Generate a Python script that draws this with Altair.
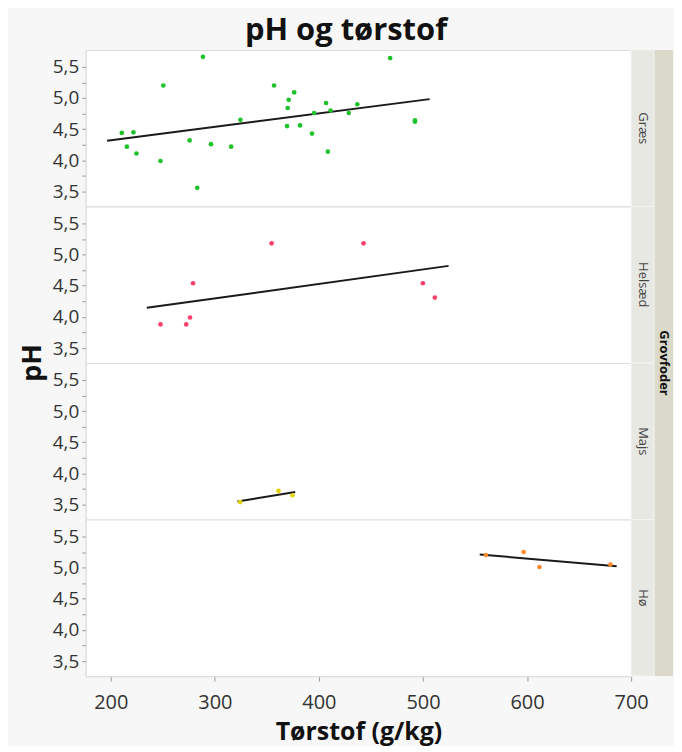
import altair as alt
import numpy as np
import pandas as pd

# ---- data ----
groups = ["Græs", "Helsæd", "Majs", "Hø"]
colors = ["#1fc22a", "#ff3f6c", "#e3d100", "#ff8a2e"]

gras_x = [288.6, 468.5, 250.5, 356.9, 376.3, 371.0, 370.0, 406.9, 436.9, 411.2,
          395.4, 428.7, 324.6, 492.3, 492.3, 369.4, 381.9, 393.4, 210.6, 221.8,
          215.5, 275.8, 296.3, 315.7, 224.7, 247.8, 408.6, 283.1]
gras_y = [5.66, 5.64, 5.20, 5.20, 5.09, 4.97, 4.84, 4.92, 4.90, 4.80,
          4.76, 4.76, 4.65, 4.64, 4.62, 4.55, 4.56, 4.43, 4.44, 4.45,
          4.22, 4.32, 4.26, 4.22, 4.11, 3.99, 4.14, 3.56]
helsaed_x = [354.6, 442.9, 279.1, 499.9, 511.4, 276.2, 247.8, 272.5]
helsaed_y = [5.18, 5.18, 4.54, 4.54, 4.31, 3.99, 3.88, 3.88]
majs_x = [324.3, 361.2, 374.7]
majs_y = [3.54, 3.72, 3.65]
ho_x = [560.5, 596.7, 611.9, 680.1]
ho_y = [5.20, 5.25, 5.01, 5.05]

x_ticks = [200, 300, 400, 500, 600, 700]
y_ticks = [3.5, 3.75, 4.0, 4.25, 4.5, 4.75, 5.0, 5.25, 5.5]

series = {"Græs": (gras_x, gras_y), "Helsæd": (helsaed_x, helsaed_y),
          "Majs": (majs_x, majs_y), "Hø": (ho_x, ho_y)}

rows = []
for g, (xs, ys) in series.items():
    for xv, yv in zip(xs, ys):
        rows.append({"Grovfoder": g, "Tørstof": xv, "pH": yv, "kind": "pt"})
    # least-squares fit line, drawn over the data range plus 5 % each side
    m, b = np.polyfit(xs, ys, 1)
    lo, hi = min(xs), max(xs)
    ext = 0.05 * (hi - lo)
    for xv in (lo - ext, hi + ext):
        rows.append({"Grovfoder": g, "Tørstof": xv, "pH": m * xv + b, "kind": "fit"})
df = pd.DataFrame(rows)

W, H = 547, 157
NROWS = len(groups)
FONT = "Open Sans"

xscale = alt.Scale(domain=[176, 700], nice=False, zero=False)
yscale = alt.Scale(domain=[3.26, 5.77], nice=False, zero=False)

x_enc = alt.X("Tørstof:Q", scale=xscale, title="Tørstof (g/kg)",
              axis=alt.Axis(values=x_ticks, labelFontSize=20, titleFontSize=25,
                            titleFontWeight="bold", labelColor="#333333",
                            titleColor="#111111", tickColor="#9a9a9a",
                            domainColor="#c8c8c8", tickSize=5, grid=False,
                            labelPadding=11, titlePadding=8, labelFlush=False))
y_enc = alt.Y("pH:Q", scale=yscale, title=None,
              axis=alt.Axis(values=y_ticks, labelFontSize=19, labelColor="#333333",
                            labelExpr="datum.value % 0.5 == 0 ? replace(format(datum.value, '.1f'), '.', ',') : ''",
                            tickColor="#9a9a9a", domainColor="#c8c8c8", tickSize=4,
                            grid=False, labelPadding=3))

base = alt.Chart()

points = base.transform_filter("datum.kind == 'pt'").mark_circle(size=22, opacity=1).encode(
    x=x_enc, y=y_enc,
    color=alt.Color("Grovfoder:N", scale=alt.Scale(domain=groups, range=colors), legend=None),
)

fit = base.transform_filter("datum.kind == 'fit'").mark_line(
    color="#1a1a1a", strokeWidth=2).encode(x=x_enc, y=y_enc)

one_per_group = base.transform_aggregate(n="count()", groupby=["Grovfoder"])

strip_inner = one_per_group.mark_rect(color="#e8e8e3", stroke="#f4f4f0", strokeWidth=1).encode(
    x=alt.value(W), x2=alt.value(W + 23), y=alt.value(0), y2=alt.value(H))
row_label = one_per_group.mark_text(angle=90, fontSize=13, font=FONT, color="#444444",
                                    baseline="middle", align="center").encode(
    x=alt.value(W + 11.5), y=alt.value(H / 2), text="Grovfoder:N")

# outer strip: one tall rect from the first panel, spanning all panels
first = base.transform_filter(f"datum.Grovfoder == '{groups[0]}'").transform_aggregate(
    n="count()", groupby=["Grovfoder"])
strip_outer = first.mark_rect(color="#dbd9c9").encode(
    x=alt.value(W + 23), x2=alt.value(W + 42), y=alt.value(0), y2=alt.value(NROWS * H))

# texts spanning all panels, drawn from the last panel (drawn on top)
last = base.transform_filter(f"datum.Grovfoder == '{groups[-1]}'").transform_aggregate(
    n="count()", groupby=["Grovfoder"])
mid_y = NROWS * H / 2 - (NROWS - 1) * H
outer_label = last.mark_text(text="Grovfoder", angle=90, fontSize=13, fontWeight="bold",
                             font=FONT, color="#111111", baseline="middle",
                             align="center").encode(x=alt.value(W + 32.5), y=alt.value(mid_y))
ph_label = last.mark_text(text="pH", angle=270, fontSize=27, fontWeight="bold",
                          font=FONT, color="#111111", baseline="middle",
                          align="center").encode(x=alt.value(-53), y=alt.value(mid_y))

layered = alt.layer(strip_outer, strip_inner, row_label, outer_label, ph_label, fit, points
                    ).properties(width=W, height=H)

chart = layered.facet(
    row=alt.Row("Grovfoder:N", sort=groups, title=None,
                header=alt.Header(labels=False)),
    data=df, spacing=0, bounds="flush",
).properties(
    title=alt.Title("pH og tørstof", fontSize=31, fontWeight="bold", font=FONT,
                    color="#111111", anchor="middle", offset=2),
    padding={"left": 10, "top": 6, "right": 0, "bottom": 0},
    background="#f7f7f7",
).configure_view(
    stroke="#dcdcdc", fill="white"
).configure_axis(
    labelFont=FONT, titleFont=FONT
).configure_facet(spacing=0)

chart.save("out.html", embed_options={"renderer": "svg", "actions": False})
